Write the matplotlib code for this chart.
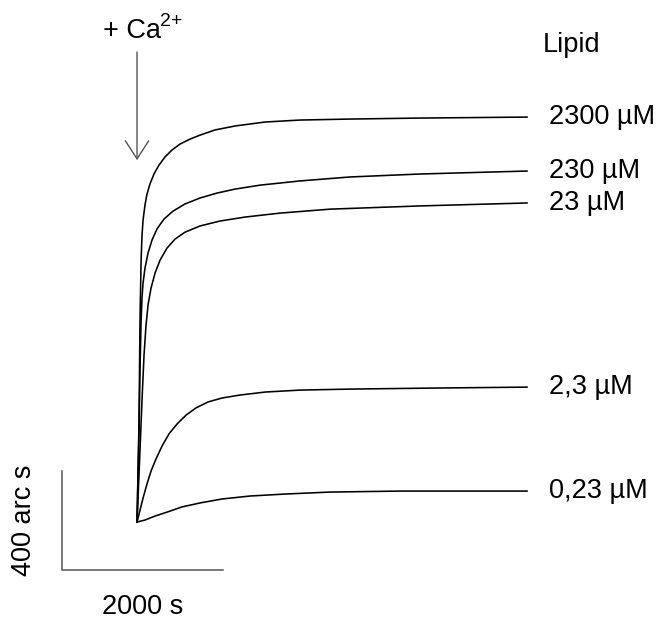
import matplotlib
matplotlib.use("Agg")
import matplotlib.pyplot as plt

plt.rcParams['font.family'] = ['Liberation Sans', 'DejaVu Sans']

# time (s) after Ca2+ addition and signal (arc s)
t_2300 = [0, 25, 37, 50, 62, 75, 99, 124, 161, 211, 273, 348, 435, 534, 658, 782, 969,
          1217, 1590, 2024, 2645, 3515, 4844]
s_2300 = [0, 412, 816, 1050, 1159, 1220, 1281, 1325, 1366, 1406, 1442, 1475, 1503, 1527,
          1547, 1563, 1584, 1600, 1616, 1624, 1628, 1632, 1636]

t_230 = [0, 25, 37, 50, 62, 75, 99, 137, 186, 248, 335, 447, 596, 782, 994, 1217, 1528,
         2024, 2645, 3515, 4844]
s_230 = [0, 372, 614, 808, 909, 966, 1026, 1087, 1139, 1184, 1224, 1256, 1285, 1309, 1329,
         1345, 1361, 1378, 1394, 1406, 1418]

t_23 = [0, 37, 62, 87, 112, 137, 174, 224, 286, 373, 472, 596, 782, 1031, 1341, 1776,
        2397, 3515, 4844]
s_23 = [0, 291, 493, 675, 796, 877, 945, 1006, 1058, 1107, 1143, 1171, 1196, 1216, 1232,
        1248, 1264, 1277, 1289]

t_2_3 = [0, 37, 75, 124, 174, 236, 311, 397, 497, 609, 733, 882, 1056, 1279, 1590, 2024,
         2645, 3639, 4844]
s_2_3 = [0, 48, 97, 154, 206, 255, 307, 356, 396, 432, 461, 485, 501, 513, 525, 533, 537,
         541, 545]

t_0_23 = [0, 99, 224, 373, 559, 782, 1056, 1403, 1838, 2397, 3267, 4844]
s_0_23 = [0, 8, 24, 40, 61, 77, 93, 105, 113, 121, 125, 125]

series_t = [t_2300, t_230, t_23, t_2_3, t_0_23]
series_s = [s_2300, s_230, s_23, s_2_3, s_0_23]
labels = ['2300 µM', '230 µM', '23 µM', '2,3 µM', '0,23 µM']

scale_time = 2000      # s
scale_signal = 400     # arc s

fig = plt.figure(figsize=(6.58, 6.23), dpi=100)
ax = fig.add_axes([0, 0, 1, 1])
ax.set_xlim(-1702, 6471)
ax.set_ylim(-408, 2109)
ax.axis('off')

for t, s in zip(series_t, series_s):
    ax.plot(t, s, color='black', lw=1.15, solid_joinstyle='round')

for t, s, lab in zip(series_t, series_s, labels):
    ax.text(5117, s[-1], lab, fontsize=19.5, ha='left', va='center')

ax.text(5043, 1927, 'Lipid', fontsize=19.5, ha='left', va='center')

# scale bars
x0, y0 = -932, -194
ax.plot([x0, x0, x0 + scale_time], [y0 + scale_signal, y0, y0], color='#555555', lw=1.1,
        solid_joinstyle='miter')
ax.text(x0 + scale_time / 2, y0 - 150, f'{scale_time} s', fontsize=19.5, ha='center', va='center')
ax.text(-1403, y0 + scale_signal / 2, f'{scale_signal} arc s', fontsize=19.5, ha='center',
        va='center', rotation=90)

# Ca2+ addition arrow
ax.annotate('', xy=(0, 1462), xytext=(0, 1899),
            arrowprops=dict(arrowstyle='->,head_length=0.65,head_width=0.42',
                            mutation_scale=20, color='#555555', lw=1.0,
                            shrinkA=0, shrinkB=0))
ax.text(-423, 1955, '+ Ca', fontsize=19.5, ha='left', va='baseline')
ax.text(290, 2005, '2+', fontsize=14, ha='left', va='baseline')

fig.savefig('out.png', dpi=100)
